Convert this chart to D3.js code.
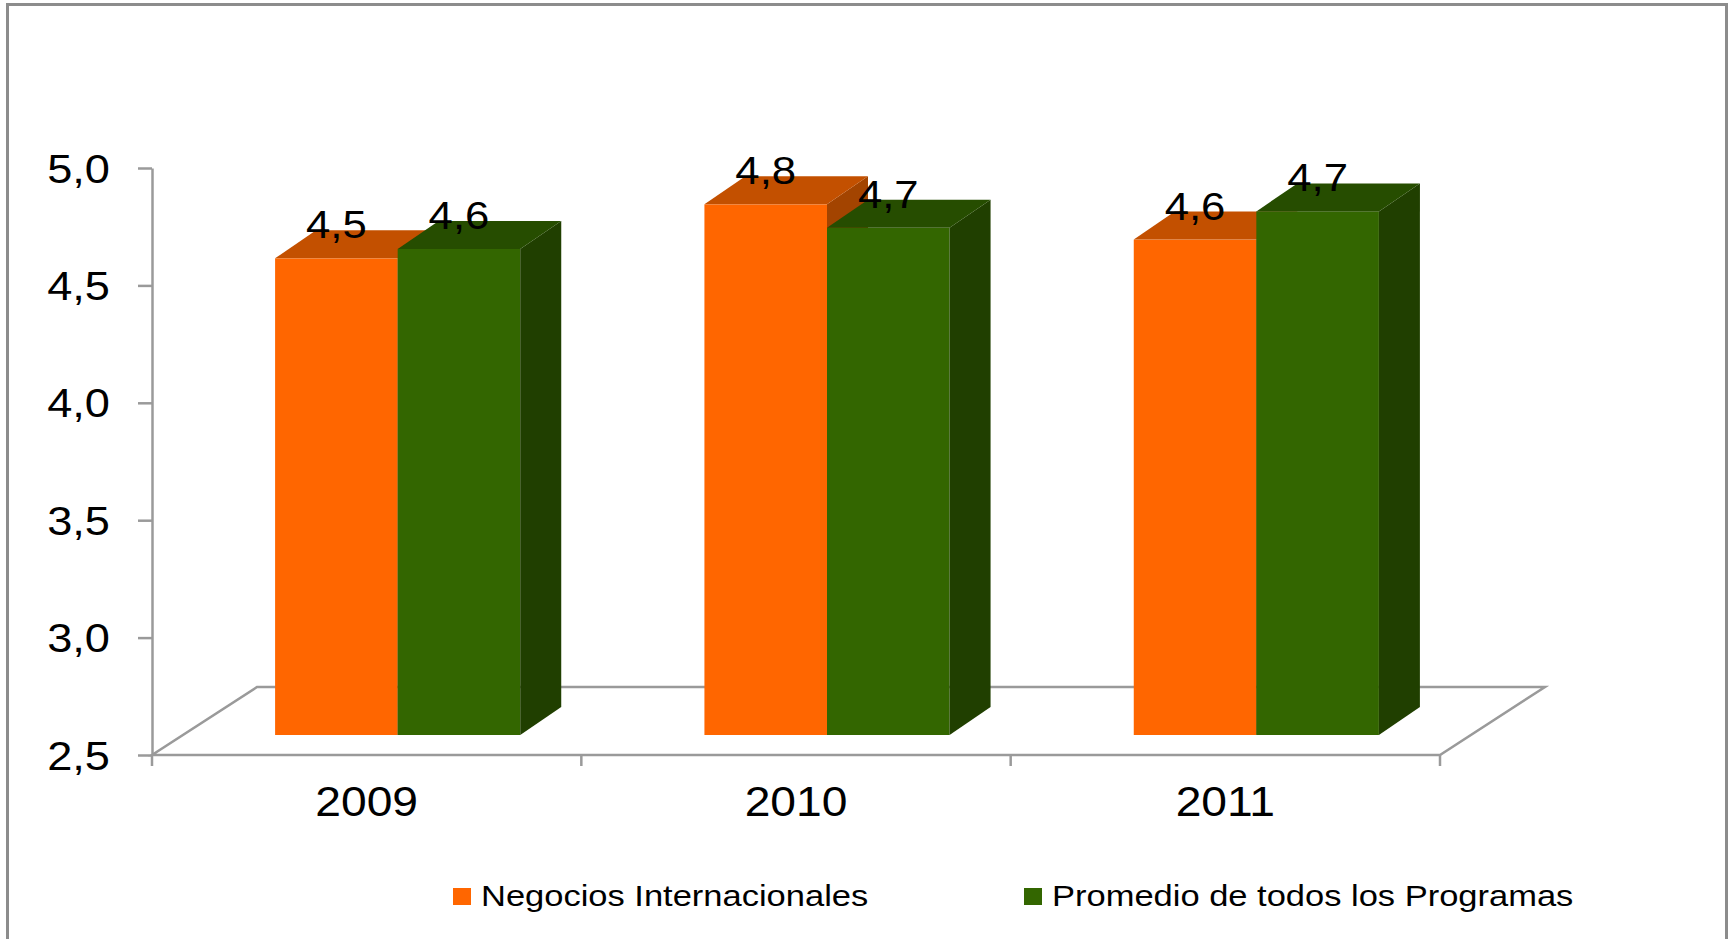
<!DOCTYPE html>
<html>
<head>
<meta charset="utf-8">
<script src="https://cdn.jsdelivr.net/npm/d3@7"></script>
<style>
  body { margin: 0; background: #fff; }
  svg text { font-family: "Liberation Sans", Arial, sans-serif; fill: #000; }
</style>
</head>
<body>
<svg id="chart"></svg>
<script>
// data
const years = ["2009", "2010", "2011"];
const seriesNames = ["Negocios Internacionales", "Promedio de todos los Programas"];
const negocios = [4.53, 4.76, 4.61];
const promedio = [4.57, 4.66, 4.73];
const yTicks = [2.5, 3.0, 3.5, 4.0, 4.5, 5.0];

// colours: front, top, side
const frontColors = ["#ff6600", "#336600"];
const topColors = ["#c35000", "#264d00"];
const sideColors = ["#a34400", "#203f00"];

const width = 1733, height = 939;
const sx = 1.13; // the original text is a bit stretched sideways

const svg = d3.select("#chart").attr("width", width).attr("height", height);

// outer frame
svg.append("rect")
  .attr("x", 7.5).attr("y", 4.5)
  .attr("width", 1719).attr("height", 980)
  .attr("fill", "none").attr("stroke", "#8c8c8c").attr("stroke-width", 3);

const y = d3.scaleLinear().domain([2.5, 5]).range([755, 168]);
const x = d3.scaleBand().domain(years).range([152, 1440]).paddingInner(0).paddingOuter(0);
const bw = x.bandwidth();
const groupW = bw * 0.571;
const xs = d3.scaleBand().domain(seriesNames).range([0, groupW]);

// fake 3d offsets
const floorD = {dx: 105, dy: 68};
const frontD = {dx: 31, dy: 20};
const barD = {dx: 41, dy: 28};

const comma = d3.formatLocale({decimal: ",", thousands: ".", grouping: [3], currency: ["", ""]});
const fmt = comma.format(".1f");

// floor
const x0 = x.range()[0], x1 = x.range()[1], yb = y(2.5);
svg.append("path")
  .attr("d", `M${x0},${yb}L${x1},${yb}L${x1 + floorD.dx},${yb - floorD.dy}L${x0 + floorD.dx},${yb - floorD.dy}Z`)
  .attr("fill", "none").attr("stroke", "#9a9a9a").attr("stroke-width", 2.5);

// category ticks at band edges
const edges = years.map(d => x(d)).concat([x1]);
svg.append("g").selectAll("line").data(edges).join("line")
  .attr("x1", d => d).attr("x2", d => d)
  .attr("y1", yb).attr("y2", yb + 11)
  .attr("stroke", "#9a9a9a").attr("stroke-width", 2.5);

// y axis
const gy = svg.append("g")
  .attr("transform", `translate(${x0},0)`)
  .call(d3.axisLeft(y).tickValues(yTicks).tickSize(14).tickSizeOuter(0).tickFormat(fmt));
gy.attr("font-family", null).attr("font-size", null);
gy.select(".domain").attr("stroke", "#9a9a9a").attr("stroke-width", 2.5);
gy.selectAll(".tick line").attr("stroke", "#9a9a9a").attr("stroke-width", 2.5);
gy.selectAll(".tick text")
  .attr("x", null).attr("dy", null)
  .attr("transform", `translate(-42,14) scale(${sx},1)`)
  .style("font-size", "40px");

// category labels
svg.append("g").selectAll("text").data(years).join("text")
  .attr("transform", d => `translate(${x(d) + bw / 2},816) scale(1.1,1)`)
  .attr("text-anchor", "middle")
  .style("font-size", "42px")
  .text(d => d);

// bars
const rows = [];
years.forEach((yr, i) => {
  rows.push({year: yr, s: 0, v: negocios[i]});
  rows.push({year: yr, s: 1, v: promedio[i]});
});

const gBars = svg.append("g");
rows.forEach(r => {
  const left = x(r.year) + (bw - groupW) / 2 + xs(seriesNames[r.s]) + frontD.dx;
  const right = left + xs.bandwidth();
  const top = y(r.v) - frontD.dy;
  const bottom = yb - frontD.dy;
  const g = gBars.append("g");
  g.append("rect")
    .attr("x", left).attr("y", top)
    .attr("width", right - left).attr("height", bottom - top)
    .attr("fill", frontColors[r.s]);
  g.append("path")
    .attr("d", `M${right},${top}L${right + barD.dx},${top - barD.dy}L${right + barD.dx},${bottom - barD.dy}L${right},${bottom}Z`)
    .attr("fill", sideColors[r.s]);
  g.append("path")
    .attr("d", `M${left},${top}L${right},${top}L${right + barD.dx},${top - barD.dy}L${left + barD.dx},${top - barD.dy}Z`)
    .attr("fill", topColors[r.s]);
});

// data labels
svg.append("g").selectAll("text").data(rows).join("text")
  .attr("transform", r => {
    const cx = x(r.year) + (bw - groupW) / 2 + xs(seriesNames[r.s]) + frontD.dx + xs.bandwidth() / 2;
    return `translate(${cx},${y(r.v) - frontD.dy - 20}) scale(1.12,1)`;
  })
  .attr("text-anchor", "middle")
  .style("font-size", "39px")
  .text(r => fmt(r.v));

// legend
const legendX = [453, 1024];
const lg = svg.append("g").selectAll("g").data(seriesNames).join("g")
  .attr("transform", (d, i) => `translate(${legendX[i]},888)`);
lg.append("rect")
  .attr("width", 18).attr("height", 17)
  .attr("fill", (d, i) => frontColors[i]);
lg.append("text")
  .attr("transform", `translate(28,18) scale(1.15,1)`)
  .style("font-size", "30px")
  .text(d => d);
</script>
</body>
</html>
